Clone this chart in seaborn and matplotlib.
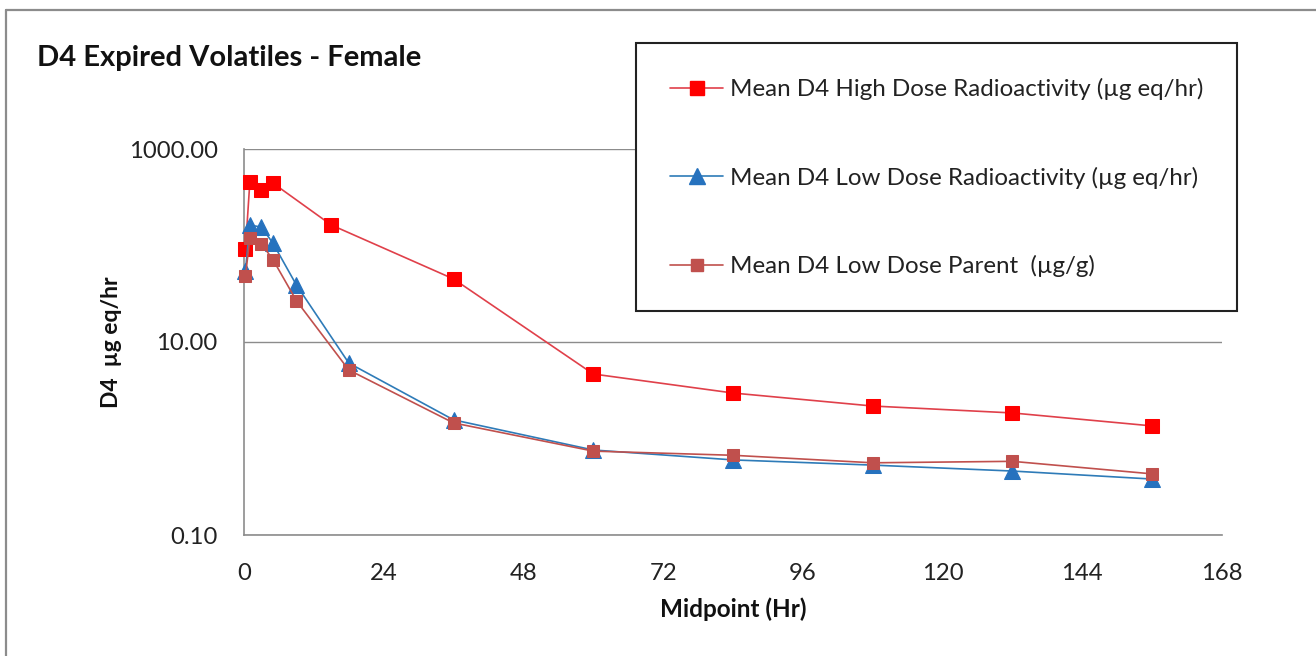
import numpy as np
import pandas as pd
import matplotlib
matplotlib.use("Agg")
import matplotlib.pyplot as plt
from matplotlib.patches import Rectangle
from matplotlib.lines import Line2D
from matplotlib.ticker import FixedLocator, FixedFormatter, NullLocator
import seaborn as sns

# ---- data ----
high_x = [0.25, 1, 3, 5, 15, 36, 60, 84, 108, 132, 156]
high_y = [92, 452, 376, 442, 163, 45, 4.66, 2.96, 2.17, 1.84, 1.35]

lowrad_x = [0.25, 1, 3, 5, 9, 18, 36, 60, 84, 108, 132, 156]
lowrad_y = [55, 163, 155, 105, 39, 6.05, 1.56, 0.76, 0.60, 0.53, 0.46, 0.38]

parent_x = [0.25, 1, 3, 5, 9, 18, 36, 60, 84, 108, 132, 156]
parent_y = [48, 120, 104, 71, 26.8, 5.13, 1.45, 0.74, 0.67, 0.56, 0.58, 0.43]

series_names = [
    "Mean D4 High Dose Radioactivity (\u00b5g eq/hr)",
    "Mean D4 Low Dose Radioactivity (\u00b5g eq/hr)",
    "Mean D4 Low Dose Parent  (\u00b5g/g)",
]
x_ticks = [0, 24, 48, 72, 96, 120, 144, 168]
y_ticks = [0.1, 10, 1000]
y_tick_labels = ["0.10", "10.00", "1000.00"]
title_text = "D4 Expired Volatiles - Female"
x_label = "Midpoint (Hr)"
y_label = "D4  \u00b5g eq/hr"

# ---- style ----
sns.set_theme(style="white")
plt.rcParams["font.family"] = ["Lato", "DejaVu Sans"]

W, H = 1316, 656
fig = plt.figure(figsize=(W / 100, H / 100), dpi=100)
fig.patch.set_facecolor("white")

def px(x0, y0, x1, y1):
    return [x0 / W, 1 - y1 / H, (x1 - x0) / W, (y1 - y0) / H]

ax = fig.add_axes(px(244, 149, 1222, 535))

colors = ["#FF0000", "#2672BE", "#C0504D"]
line_colors = ["#E0404A", "#2E7BB8", "#C0504D"]
markers = ["s", "^", "s"]
msizes = [9.5, 12, 9]

datasets = [(high_x, high_y), (lowrad_x, lowrad_y), (parent_x, parent_y)]
for i, (xs, ys) in enumerate(datasets):
    df = pd.DataFrame({"x": xs, "y": ys})
    sns.lineplot(data=df, x="x", y="y", ax=ax, color=line_colors[i],
                 marker=markers[i], markersize=msizes[i],
                 markerfacecolor=colors[i], markeredgecolor=colors[i],
                 linewidth=1.2, zorder=3 + i, sort=False, clip_on=False)

ax.set_yscale("log")
ax.set_ylim(0.1, 1000)
ax.set_xlim(0, 168)
ax.yaxis.set_major_locator(FixedLocator(y_ticks))
ax.yaxis.set_major_formatter(FixedFormatter(y_tick_labels))
ax.yaxis.set_minor_locator(NullLocator())
ax.set_xticks(x_ticks)
ax.set_xticks(np.arange(12, 168, 24), minor=True)

grid_c = "#8C8C8C"
ax.grid(axis="y", which="major", color=grid_c, linewidth=1.0)
ax.set_axisbelow(True)
for s in ["top", "right"]:
    ax.spines[s].set_visible(False)
for s in ["left", "bottom"]:
    ax.spines[s].set_color(grid_c)
    ax.spines[s].set_linewidth(1.2)

ax.tick_params(axis="x", which="both", direction="in", length=5, width=1,
               color=grid_c, labelsize=17.2, labelcolor="#222222", pad=20)
ax.tick_params(axis="y", which="both", length=0, labelsize=17.2,
               labelcolor="#222222", pad=19)

ax.set_xlabel(x_label, fontsize=17.5, fontweight="bold", color="#111111", labelpad=10)
ax.set_ylabel(y_label, fontsize=16.5, fontweight="bold", color="#111111", labelpad=5)

fig.text(37 / W, 1 - 58 / H, title_text, fontsize=21, fontweight="bold",
         color="#111111", ha="left", va="center")

# outer chart border
fig.add_artist(Line2D([6 / W, 6 / W], [0, 1 - 10 / H], transform=fig.transFigure,
                      color="#8C8C8C", linewidth=1.6))
fig.add_artist(Line2D([6 / W, 1], [1 - 10 / H, 1 - 10 / H], transform=fig.transFigure,
                      color="#8C8C8C", linewidth=1.6))

# legend box
b = px(636, 43, 1237, 311)
fig.add_artist(Rectangle((b[0], b[1]), b[2], b[3], transform=fig.transFigure,
                         facecolor="white", edgecolor="#222222", linewidth=1.5, zorder=10))
handles = [Line2D([], [], color=line_colors[i], marker=markers[i], markersize=msizes[i],
                  markerfacecolor=colors[i], markeredgecolor=colors[i], linewidth=1.2)
           for i in range(3)]
leg = fig.legend(handles, series_names, loc="upper left",
                 bbox_to_anchor=(670 / W, 1 - 78 / H), frameon=False,
                 fontsize=17.4, handlelength=2.2, handletextpad=0.29,
                 labelspacing=2.75, borderpad=0, borderaxespad=0)
leg.set_zorder(11)
for t in leg.get_texts():
    t.set_color("#222222")

fig.savefig("out.png", dpi=100, facecolor="white")
